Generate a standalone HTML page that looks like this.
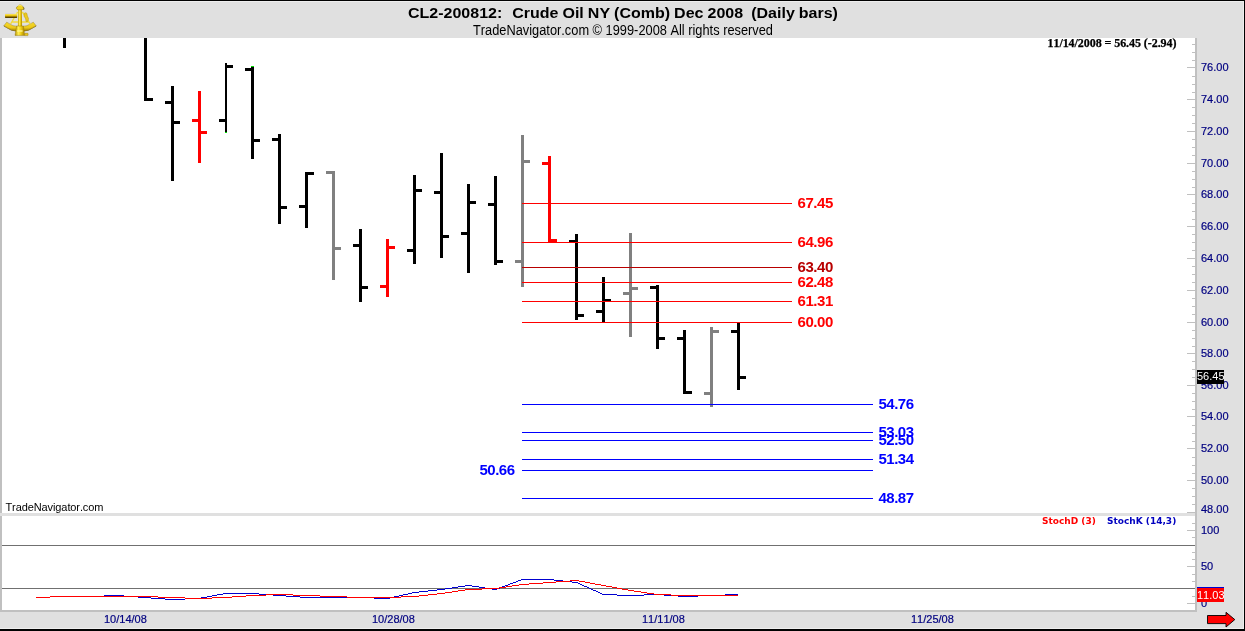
<!DOCTYPE html>
<html><head><meta charset="utf-8"><title>CL2-200812 Crude Oil</title>
<style>
html,body{margin:0;padding:0;}
body{width:1245px;height:631px;position:relative;overflow:hidden;background:#fff;font-family:"Liberation Sans",Arial,sans-serif;font-kerning:none;}
i{position:absolute;display:block;}
.t{position:absolute;white-space:nowrap;line-height:1;}
.ax{font-size:11px;color:#000080;left:1201px;-webkit-text-stroke:0.2px #000080;}
.fr{font-size:15px;letter-spacing:-0.45px;font-weight:bold;color:#f00;left:797.5px;}
.fb{font-size:15px;letter-spacing:-0.5px;font-weight:bold;color:#00f;left:878.5px;}
.dt{font-size:11px;color:#000080;top:614px;-webkit-text-stroke:0.2px #000080;}
svg{position:absolute;left:0;top:0;}
</style></head><body>

<i style="left:0px;top:0px;width:1245px;height:1px;background:#000"></i>
<i style="left:0px;top:1px;width:1245px;height:37px;background:#e0e0e0"></i>
<i style="left:0px;top:38px;width:2px;height:574px;background:#c0c0c0"></i>
<i style="left:1197px;top:38px;width:47px;height:574px;background:#e0e0e0"></i>
<i style="left:1195px;top:38px;width:2px;height:574px;background:#c0c0c0"></i>
<i style="left:1244px;top:0px;width:1px;height:631px;background:#000"></i>
<i style="left:0px;top:513px;width:1195px;height:3px;background:#e0e0e0"></i>
<i style="left:0px;top:610px;width:1197px;height:2px;background:#c0c0c0"></i>
<i style="left:0px;top:612px;width:1244px;height:17px;background:#e0e0e0"></i>
<i style="left:0px;top:629px;width:1245px;height:2px;background:#000"></i>
<i style="left:0px;top:628px;width:1244px;height:1px;background:#eeeeee"></i>
<i style="left:0px;top:1px;width:1244px;height:1px;background:#eeeeee"></i>
<i style="left:1243px;top:1px;width:1px;height:628px;background:#eeeeee"></i>
<i style="left:1192px;top:44px;width:3px;height:1px;background:#c0c0c0"></i>
<i style="left:1192px;top:52px;width:3px;height:1px;background:#c0c0c0"></i>
<i style="left:1192px;top:60px;width:3px;height:1px;background:#c0c0c0"></i>
<i style="left:1187px;top:67px;width:8px;height:1px;background:#c0c0c0"></i>
<i style="left:1192px;top:76px;width:3px;height:1px;background:#c0c0c0"></i>
<i style="left:1192px;top:84px;width:3px;height:1px;background:#c0c0c0"></i>
<i style="left:1192px;top:92px;width:3px;height:1px;background:#c0c0c0"></i>
<i style="left:1187px;top:99px;width:8px;height:1px;background:#c0c0c0"></i>
<i style="left:1192px;top:107px;width:3px;height:1px;background:#c0c0c0"></i>
<i style="left:1192px;top:115px;width:3px;height:1px;background:#c0c0c0"></i>
<i style="left:1192px;top:123px;width:3px;height:1px;background:#c0c0c0"></i>
<i style="left:1187px;top:131px;width:8px;height:1px;background:#c0c0c0"></i>
<i style="left:1192px;top:139px;width:3px;height:1px;background:#c0c0c0"></i>
<i style="left:1192px;top:147px;width:3px;height:1px;background:#c0c0c0"></i>
<i style="left:1192px;top:155px;width:3px;height:1px;background:#c0c0c0"></i>
<i style="left:1187px;top:163px;width:8px;height:1px;background:#c0c0c0"></i>
<i style="left:1192px;top:171px;width:3px;height:1px;background:#c0c0c0"></i>
<i style="left:1192px;top:179px;width:3px;height:1px;background:#c0c0c0"></i>
<i style="left:1192px;top:187px;width:3px;height:1px;background:#c0c0c0"></i>
<i style="left:1187px;top:194px;width:8px;height:1px;background:#c0c0c0"></i>
<i style="left:1192px;top:203px;width:3px;height:1px;background:#c0c0c0"></i>
<i style="left:1192px;top:211px;width:3px;height:1px;background:#c0c0c0"></i>
<i style="left:1192px;top:219px;width:3px;height:1px;background:#c0c0c0"></i>
<i style="left:1187px;top:226px;width:8px;height:1px;background:#c0c0c0"></i>
<i style="left:1192px;top:234px;width:3px;height:1px;background:#c0c0c0"></i>
<i style="left:1192px;top:242px;width:3px;height:1px;background:#c0c0c0"></i>
<i style="left:1192px;top:250px;width:3px;height:1px;background:#c0c0c0"></i>
<i style="left:1187px;top:258px;width:8px;height:1px;background:#c0c0c0"></i>
<i style="left:1192px;top:266px;width:3px;height:1px;background:#c0c0c0"></i>
<i style="left:1192px;top:274px;width:3px;height:1px;background:#c0c0c0"></i>
<i style="left:1192px;top:282px;width:3px;height:1px;background:#c0c0c0"></i>
<i style="left:1187px;top:290px;width:8px;height:1px;background:#c0c0c0"></i>
<i style="left:1192px;top:298px;width:3px;height:1px;background:#c0c0c0"></i>
<i style="left:1192px;top:306px;width:3px;height:1px;background:#c0c0c0"></i>
<i style="left:1192px;top:314px;width:3px;height:1px;background:#c0c0c0"></i>
<i style="left:1187px;top:322px;width:8px;height:1px;background:#c0c0c0"></i>
<i style="left:1192px;top:330px;width:3px;height:1px;background:#c0c0c0"></i>
<i style="left:1192px;top:338px;width:3px;height:1px;background:#c0c0c0"></i>
<i style="left:1192px;top:346px;width:3px;height:1px;background:#c0c0c0"></i>
<i style="left:1187px;top:353px;width:8px;height:1px;background:#c0c0c0"></i>
<i style="left:1192px;top:361px;width:3px;height:1px;background:#c0c0c0"></i>
<i style="left:1192px;top:369px;width:3px;height:1px;background:#c0c0c0"></i>
<i style="left:1192px;top:377px;width:3px;height:1px;background:#c0c0c0"></i>
<i style="left:1187px;top:385px;width:8px;height:1px;background:#c0c0c0"></i>
<i style="left:1192px;top:393px;width:3px;height:1px;background:#c0c0c0"></i>
<i style="left:1192px;top:401px;width:3px;height:1px;background:#c0c0c0"></i>
<i style="left:1192px;top:409px;width:3px;height:1px;background:#c0c0c0"></i>
<i style="left:1187px;top:416px;width:8px;height:1px;background:#c0c0c0"></i>
<i style="left:1192px;top:425px;width:3px;height:1px;background:#c0c0c0"></i>
<i style="left:1192px;top:433px;width:3px;height:1px;background:#c0c0c0"></i>
<i style="left:1192px;top:441px;width:3px;height:1px;background:#c0c0c0"></i>
<i style="left:1187px;top:448px;width:8px;height:1px;background:#c0c0c0"></i>
<i style="left:1192px;top:457px;width:3px;height:1px;background:#c0c0c0"></i>
<i style="left:1192px;top:465px;width:3px;height:1px;background:#c0c0c0"></i>
<i style="left:1192px;top:473px;width:3px;height:1px;background:#c0c0c0"></i>
<i style="left:1187px;top:480px;width:8px;height:1px;background:#c0c0c0"></i>
<i style="left:1192px;top:488px;width:3px;height:1px;background:#c0c0c0"></i>
<i style="left:1192px;top:496px;width:3px;height:1px;background:#c0c0c0"></i>
<i style="left:1192px;top:504px;width:3px;height:1px;background:#c0c0c0"></i>
<i style="left:1187px;top:512px;width:8px;height:1px;background:#c0c0c0"></i>
<i style="left:1192px;top:523px;width:3px;height:1px;background:#c0c0c0"></i>
<i style="left:1187px;top:530px;width:8px;height:1px;background:#c0c0c0"></i>
<i style="left:1192px;top:537px;width:3px;height:1px;background:#c0c0c0"></i>
<i style="left:1192px;top:545px;width:3px;height:1px;background:#c0c0c0"></i>
<i style="left:1192px;top:552px;width:3px;height:1px;background:#c0c0c0"></i>
<i style="left:1192px;top:559px;width:3px;height:1px;background:#c0c0c0"></i>
<i style="left:1187px;top:566px;width:8px;height:1px;background:#c0c0c0"></i>
<i style="left:1192px;top:574px;width:3px;height:1px;background:#c0c0c0"></i>
<i style="left:1192px;top:581px;width:3px;height:1px;background:#c0c0c0"></i>
<i style="left:1192px;top:588px;width:3px;height:1px;background:#c0c0c0"></i>
<i style="left:1192px;top:596px;width:3px;height:1px;background:#c0c0c0"></i>
<i style="left:1187px;top:603px;width:8px;height:1px;background:#c0c0c0"></i>
<i style="left:2px;top:545px;width:1193px;height:1px;background:#707070"></i>
<i style="left:2px;top:588px;width:1193px;height:1px;background:#707070"></i>
<span class="t ax" style="top:62px">76.00</span>
<span class="t ax" style="top:94px">74.00</span>
<span class="t ax" style="top:126px">72.00</span>
<span class="t ax" style="top:158px">70.00</span>
<span class="t ax" style="top:189px">68.00</span>
<span class="t ax" style="top:221px">66.00</span>
<span class="t ax" style="top:253px">64.00</span>
<span class="t ax" style="top:285px">62.00</span>
<span class="t ax" style="top:317px">60.00</span>
<span class="t ax" style="top:348px">58.00</span>
<span class="t ax" style="top:380px">56.00</span>
<span class="t ax" style="top:411px">54.00</span>
<span class="t ax" style="top:443px">52.00</span>
<span class="t ax" style="top:475px">50.00</span>
<span class="t ax" style="top:504px">48.00</span>
<span class="t ax" style="top:525px">100</span>
<span class="t ax" style="top:561px">50</span>
<span class="t ax" style="top:598px">0</span>
<i style="left:63px;top:38px;width:3px;height:10px;background:#000"></i>
<i style="left:144px;top:38px;width:3px;height:63px;background:#000"></i>
<i style="left:147px;top:98px;width:6px;height:3px;background:#000"></i>
<i style="left:171px;top:86px;width:3px;height:95px;background:#000"></i>
<i style="left:165px;top:101px;width:6px;height:3px;background:#000"></i>
<i style="left:174px;top:121px;width:6px;height:3px;background:#000"></i>
<i style="left:198px;top:91px;width:3px;height:72px;background:#f00"></i>
<i style="left:192px;top:119px;width:6px;height:3px;background:#f00"></i>
<i style="left:201px;top:131px;width:6px;height:3px;background:#f00"></i>
<i style="left:225px;top:63px;width:2px;height:69px;background:#000"></i>
<i style="left:219px;top:119px;width:6px;height:3px;background:#000"></i>
<i style="left:227px;top:65px;width:6px;height:3px;background:#000"></i>
<i style="left:251px;top:67px;width:3px;height:92px;background:#000"></i>
<i style="left:245px;top:68px;width:6px;height:3px;background:#000"></i>
<i style="left:254px;top:139px;width:6px;height:3px;background:#000"></i>
<i style="left:278px;top:134px;width:3px;height:90px;background:#000"></i>
<i style="left:272px;top:138px;width:6px;height:3px;background:#000"></i>
<i style="left:281px;top:206px;width:6px;height:3px;background:#000"></i>
<i style="left:305px;top:172px;width:3px;height:56px;background:#000"></i>
<i style="left:299px;top:205px;width:6px;height:3px;background:#000"></i>
<i style="left:308px;top:172px;width:6px;height:3px;background:#000"></i>
<i style="left:332px;top:171px;width:3px;height:109px;background:#808080"></i>
<i style="left:326px;top:171px;width:6px;height:3px;background:#808080"></i>
<i style="left:335px;top:247px;width:6px;height:3px;background:#808080"></i>
<i style="left:359px;top:229px;width:3px;height:73px;background:#000"></i>
<i style="left:353px;top:244px;width:6px;height:3px;background:#000"></i>
<i style="left:362px;top:286px;width:6px;height:3px;background:#000"></i>
<i style="left:386px;top:239px;width:3px;height:58px;background:#f00"></i>
<i style="left:380px;top:285px;width:6px;height:3px;background:#f00"></i>
<i style="left:389px;top:246px;width:6px;height:3px;background:#f00"></i>
<i style="left:413px;top:175px;width:3px;height:89px;background:#000"></i>
<i style="left:407px;top:249px;width:6px;height:3px;background:#000"></i>
<i style="left:416px;top:189px;width:6px;height:3px;background:#000"></i>
<i style="left:440px;top:153px;width:3px;height:105px;background:#000"></i>
<i style="left:434px;top:191px;width:6px;height:3px;background:#000"></i>
<i style="left:443px;top:235px;width:6px;height:3px;background:#000"></i>
<i style="left:467px;top:184px;width:3px;height:89px;background:#000"></i>
<i style="left:461px;top:232px;width:6px;height:3px;background:#000"></i>
<i style="left:470px;top:201px;width:6px;height:3px;background:#000"></i>
<i style="left:494px;top:176px;width:3px;height:89px;background:#000"></i>
<i style="left:488px;top:203px;width:6px;height:3px;background:#000"></i>
<i style="left:497px;top:260px;width:6px;height:3px;background:#000"></i>
<i style="left:521px;top:135px;width:3px;height:152px;background:#808080"></i>
<i style="left:515px;top:260px;width:6px;height:3px;background:#808080"></i>
<i style="left:524px;top:160px;width:6px;height:3px;background:#808080"></i>
<i style="left:548px;top:156px;width:3px;height:86px;background:#f00"></i>
<i style="left:542px;top:162px;width:6px;height:3px;background:#f00"></i>
<i style="left:551px;top:239px;width:6px;height:3px;background:#f00"></i>
<i style="left:575px;top:234px;width:3px;height:86px;background:#000"></i>
<i style="left:569px;top:240px;width:6px;height:3px;background:#000"></i>
<i style="left:578px;top:314px;width:6px;height:3px;background:#000"></i>
<i style="left:602px;top:277px;width:3px;height:45px;background:#000"></i>
<i style="left:596px;top:310px;width:6px;height:3px;background:#000"></i>
<i style="left:605px;top:299px;width:6px;height:3px;background:#000"></i>
<i style="left:629px;top:233px;width:3px;height:104px;background:#808080"></i>
<i style="left:623px;top:292px;width:6px;height:3px;background:#808080"></i>
<i style="left:632px;top:287px;width:6px;height:3px;background:#808080"></i>
<i style="left:656px;top:285px;width:3px;height:64px;background:#000"></i>
<i style="left:650px;top:286px;width:6px;height:3px;background:#000"></i>
<i style="left:659px;top:337px;width:6px;height:3px;background:#000"></i>
<i style="left:683px;top:330px;width:3px;height:64px;background:#000"></i>
<i style="left:677px;top:337px;width:6px;height:3px;background:#000"></i>
<i style="left:686px;top:391px;width:6px;height:3px;background:#000"></i>
<i style="left:710px;top:327px;width:3px;height:80px;background:#808080"></i>
<i style="left:704px;top:392px;width:6px;height:3px;background:#808080"></i>
<i style="left:713px;top:330px;width:6px;height:3px;background:#808080"></i>
<i style="left:737px;top:322px;width:3px;height:68px;background:#000"></i>
<i style="left:731px;top:330px;width:6px;height:3px;background:#000"></i>
<i style="left:740px;top:376px;width:6px;height:3px;background:#000"></i>
<i style="left:225px;top:132px;width:2px;height:1px;background:#00e000"></i>
<i style="left:251px;top:66px;width:3px;height:1px;background:#00e000"></i>
<i style="left:522px;top:203px;width:270px;height:1px;background:#f00"></i>
<i style="left:522px;top:242px;width:270px;height:1px;background:#f00"></i>
<i style="left:522px;top:267px;width:270px;height:1px;background:#b80000"></i>
<i style="left:522px;top:282px;width:270px;height:1px;background:#f00"></i>
<i style="left:522px;top:301px;width:270px;height:1px;background:#f00"></i>
<i style="left:522px;top:322px;width:270px;height:1px;background:#f00"></i>
<i style="left:522px;top:404px;width:351px;height:1px;background:#00f"></i>
<i style="left:522px;top:432px;width:351px;height:1px;background:#00f"></i>
<i style="left:522px;top:440px;width:351px;height:1px;background:#00f"></i>
<i style="left:522px;top:459px;width:351px;height:1px;background:#00f"></i>
<i style="left:522px;top:470px;width:351px;height:1px;background:#00f"></i>
<i style="left:522px;top:498px;width:351px;height:1px;background:#00f"></i>
<span class="t fr" style="top:195px;color:#f00">67.45</span>
<span class="t fr" style="top:234px;color:#f00">64.96</span>
<span class="t fr" style="top:259px;color:#b80000">63.40</span>
<span class="t fr" style="top:274px;color:#f00">62.48</span>
<span class="t fr" style="top:293px;color:#f00">61.31</span>
<span class="t fr" style="top:314px;color:#f00">60.00</span>
<span class="t fb" style="top:396px">54.76</span>
<span class="t fb" style="top:424px">53.03</span>
<span class="t fb" style="top:432px">52.50</span>
<span class="t fb" style="top:451px">51.34</span>
<span class="t fb" style="top:462px;left:479.5px">50.66</span>
<span class="t fb" style="top:490px">48.87</span>
<i style="left:1197px;top:370px;width:27px;height:14px;background:#000"></i>
<span class="t" style="left:1197px;top:371px;font-size:11px;color:#fff;width:27px;text-align:center">56.45</span>
<i style="left:1197px;top:587px;width:27px;height:13px;background:#0000d0"></i>
<i style="left:1197px;top:588px;width:27px;height:14px;background:#f00"></i>
<span class="t" style="left:1197px;top:590px;font-size:11px;color:#fff;width:27px;text-align:center">11.03</span>
<span class="t" style="left:408px;top:5px;font-size:16px;word-spacing:-0.4px;font-weight:bold;color:#000;white-space:pre;transform:scaleY(0.94);transform-origin:0 13.5px"><b style="margin-right:1.8px">CL2-200812:</b>  Crude Oil NY (Comb) Dec 2008  (Daily bars)</span>
<span class="t" style="left:473px;top:24px;font-size:13px;color:#000;transform:scale(0.9855,1.06);transform-origin:0 11px">TradeNavigator.com © 1999-2008 All rights reserved</span>
<span class="t" style="left:1047.5px;top:37.2px;font-family:'Liberation Serif',serif;font-size:12px;letter-spacing:-0.06px;-webkit-text-stroke:0.25px #000;font-weight:bold;color:#000">11/14/2008 = 56.45 (-2.94)</span>
<span class="t" style="left:5.5px;top:502px;font-size:11px;letter-spacing:-0.1px;color:#000">TradeNavigator.com</span>
<span class="t" style="left:1042px;top:516.7px;font-family:'DejaVu Sans',sans-serif;font-size:9px;font-weight:bold;color:#f00">StochD (3)</span>
<span class="t" style="left:1107px;top:516.7px;font-family:'DejaVu Sans',sans-serif;font-size:9px;font-weight:bold;color:#0000c0">StochK (14,3)</span>
<span class="t dt" style="left:104px">10/14/08</span>
<span class="t dt" style="left:372px">10/28/08</span>
<span class="t dt" style="left:642px">11/11/08</span>
<span class="t dt" style="left:911px">11/25/08</span>
<svg width="1245" height="631" viewBox="0 0 1245 631" shape-rendering="crispEdges">
<rect x="36" y="597" width="14" height="1" fill="#0000d0"/><rect x="50" y="596" width="54" height="1" fill="#0000d0"/><rect x="104" y="595" width="20" height="1" fill="#0000d0"/><rect x="124" y="596" width="14" height="1" fill="#0000d0"/><rect x="138" y="597" width="13" height="1" fill="#0000d0"/><rect x="151" y="598" width="14" height="1" fill="#0000d0"/><rect x="165" y="599" width="20" height="1" fill="#0000d0"/><rect x="185" y="598" width="16" height="1" fill="#0000d0"/><rect x="201" y="597" width="6" height="1" fill="#0000d0"/><rect x="207" y="596" width="5" height="1" fill="#0000d0"/><rect x="212" y="595" width="5" height="1" fill="#0000d0"/><rect x="217" y="594" width="6" height="1" fill="#0000d0"/><rect x="223" y="593" width="36" height="1" fill="#0000d0"/><rect x="259" y="594" width="14" height="1" fill="#0000d0"/><rect x="273" y="595" width="13" height="1" fill="#0000d0"/><rect x="286" y="596" width="14" height="1" fill="#0000d0"/><rect x="300" y="597" width="74" height="1" fill="#0000d0"/><rect x="374" y="598" width="16" height="1" fill="#0000d0"/><rect x="390" y="597" width="4" height="1" fill="#0000d0"/><rect x="394" y="596" width="5" height="1" fill="#0000d0"/><rect x="399" y="595" width="4" height="1" fill="#0000d0"/><rect x="403" y="594" width="5" height="1" fill="#0000d0"/><rect x="408" y="593" width="4" height="1" fill="#0000d0"/><rect x="412" y="592" width="7" height="1" fill="#0000d0"/><rect x="419" y="591" width="9" height="1" fill="#0000d0"/><rect x="428" y="590" width="9" height="1" fill="#0000d0"/><rect x="437" y="589" width="8" height="1" fill="#0000d0"/><rect x="445" y="588" width="7" height="1" fill="#0000d0"/><rect x="452" y="587" width="6" height="1" fill="#0000d0"/><rect x="458" y="586" width="7" height="1" fill="#0000d0"/><rect x="465" y="585" width="7" height="1" fill="#0000d0"/><rect x="472" y="586" width="7" height="1" fill="#0000d0"/><rect x="479" y="587" width="6" height="1" fill="#0000d0"/><rect x="485" y="588" width="7" height="1" fill="#0000d0"/><rect x="492" y="589" width="5" height="1" fill="#0000d0"/><rect x="497" y="588" width="3" height="1" fill="#0000d0"/><rect x="500" y="587" width="2" height="1" fill="#0000d0"/><rect x="502" y="586" width="3" height="1" fill="#0000d0"/><rect x="505" y="585" width="3" height="1" fill="#0000d0"/><rect x="508" y="584" width="2" height="1" fill="#0000d0"/><rect x="510" y="583" width="3" height="1" fill="#0000d0"/><rect x="513" y="582" width="3" height="1" fill="#0000d0"/><rect x="516" y="581" width="2" height="1" fill="#0000d0"/><rect x="518" y="580" width="3" height="1" fill="#0000d0"/><rect x="521" y="579" width="33" height="1" fill="#0000d0"/><rect x="554" y="580" width="9" height="1" fill="#0000d0"/><rect x="563" y="581" width="9" height="1" fill="#0000d0"/><rect x="572" y="582" width="6" height="1" fill="#0000d0"/><rect x="578" y="583" width="2" height="1" fill="#0000d0"/><rect x="580" y="584" width="2" height="1" fill="#0000d0"/><rect x="582" y="585" width="2" height="1" fill="#0000d0"/><rect x="584" y="586" width="3" height="1" fill="#0000d0"/><rect x="587" y="587" width="2" height="1" fill="#0000d0"/><rect x="589" y="588" width="2" height="1" fill="#0000d0"/><rect x="591" y="589" width="2" height="1" fill="#0000d0"/><rect x="593" y="590" width="3" height="1" fill="#0000d0"/><rect x="596" y="591" width="2" height="1" fill="#0000d0"/><rect x="598" y="592" width="2" height="1" fill="#0000d0"/><rect x="600" y="593" width="2" height="1" fill="#0000d0"/><rect x="602" y="594" width="15" height="1" fill="#0000d0"/><rect x="617" y="595" width="27" height="1" fill="#0000d0"/><rect x="644" y="594" width="20" height="1" fill="#0000d0"/><rect x="664" y="595" width="14" height="1" fill="#0000d0"/><rect x="678" y="596" width="20" height="1" fill="#0000d0"/><rect x="698" y="595" width="27" height="1" fill="#0000d0"/><rect x="725" y="594" width="13" height="1" fill="#0000d0"/>
<rect x="36" y="597" width="14" height="1" fill="#f00"/><rect x="50" y="596" width="108" height="1" fill="#f00"/><rect x="158" y="597" width="27" height="1" fill="#f00"/><rect x="185" y="598" width="27" height="1" fill="#f00"/><rect x="212" y="597" width="20" height="1" fill="#f00"/><rect x="232" y="596" width="14" height="1" fill="#f00"/><rect x="246" y="595" width="20" height="1" fill="#f00"/><rect x="266" y="594" width="27" height="1" fill="#f00"/><rect x="293" y="595" width="27" height="1" fill="#f00"/><rect x="320" y="596" width="27" height="1" fill="#f00"/><rect x="347" y="597" width="54" height="1" fill="#f00"/><rect x="401" y="596" width="18" height="1" fill="#f00"/><rect x="419" y="595" width="9" height="1" fill="#f00"/><rect x="428" y="594" width="9" height="1" fill="#f00"/><rect x="437" y="593" width="8" height="1" fill="#f00"/><rect x="445" y="592" width="7" height="1" fill="#f00"/><rect x="452" y="591" width="6" height="1" fill="#f00"/><rect x="458" y="590" width="7" height="1" fill="#f00"/><rect x="465" y="589" width="17" height="1" fill="#f00"/><rect x="482" y="588" width="17" height="1" fill="#f00"/><rect x="499" y="587" width="7" height="1" fill="#f00"/><rect x="506" y="586" width="6" height="1" fill="#f00"/><rect x="512" y="585" width="7" height="1" fill="#f00"/><rect x="519" y="584" width="10" height="1" fill="#f00"/><rect x="529" y="583" width="14" height="1" fill="#f00"/><rect x="543" y="582" width="13" height="1" fill="#f00"/><rect x="556" y="581" width="14" height="1" fill="#f00"/><rect x="570" y="580" width="9" height="1" fill="#f00"/><rect x="579" y="581" width="6" height="1" fill="#f00"/><rect x="585" y="582" width="5" height="1" fill="#f00"/><rect x="590" y="583" width="5" height="1" fill="#f00"/><rect x="595" y="584" width="6" height="1" fill="#f00"/><rect x="601" y="585" width="5" height="1" fill="#f00"/><rect x="606" y="586" width="6" height="1" fill="#f00"/><rect x="612" y="587" width="5" height="1" fill="#f00"/><rect x="617" y="588" width="5" height="1" fill="#f00"/><rect x="622" y="589" width="6" height="1" fill="#f00"/><rect x="628" y="590" width="6" height="1" fill="#f00"/><rect x="634" y="591" width="7" height="1" fill="#f00"/><rect x="641" y="592" width="6" height="1" fill="#f00"/><rect x="647" y="593" width="7" height="1" fill="#f00"/><rect x="654" y="594" width="17" height="1" fill="#f00"/><rect x="671" y="595" width="67" height="1" fill="#f00"/>
</svg><svg width="1245" height="631" viewBox="0 0 1245 631">
<polygon points="1207.5,615.5 1226,615.5 1226,612.3 1234.8,619.6 1226,627 1226,623.6 1207.5,623.6" fill="#f00" stroke="#000" stroke-width="0.9" stroke-linejoin="miter"/>
</svg>
<svg width="44" height="40" viewBox="0 0 44 40" style="left:0;top:0">
<defs>
<linearGradient id="ga" x1="0" y1="0" x2="1" y2="0"><stop offset="0" stop-color="#b89400"/><stop offset="0.35" stop-color="#ffee50"/><stop offset="0.6" stop-color="#f0d018"/><stop offset="1" stop-color="#a88200"/></linearGradient>
<linearGradient id="gt" x1="0" y1="0" x2="0" y2="1"><stop offset="0" stop-color="#fff27a"/><stop offset="0.45" stop-color="#e8c414"/><stop offset="0.8" stop-color="#7a5c00"/><stop offset="1" stop-color="#3a2c00"/></linearGradient>
<linearGradient id="gr" x1="0" y1="0" x2="0" y2="1"><stop offset="0" stop-color="#f6dc2c"/><stop offset="0.6" stop-color="#ecc81a"/><stop offset="1" stop-color="#9c7c00"/></linearGradient>
</defs>
<path d="M3.75,25.93 A26.1,26.1 0 0 0 36.25,25.93" fill="none" stroke="#4a3800" stroke-width="0.9" opacity="0.75"/>
<path d="M3.94,25.69 A25.8,25.8 0 0 0 36.06,25.69 L33.26,22.17 A21.3,21.3 0 0 1 6.74,22.17 Z" fill="url(#gr)" stroke="#8a6c00" stroke-width="0.4"/>
<path d="M17.6,12 L10.6,24 M22.4,12 L30.2,24 M12.2,22 L28.4,22" stroke="#f2da3a" stroke-width="1.4" fill="none"/>
<path d="M24.3,13.2 q1.6,-1.2 2.6,0.2 l0.5,2.6 1.2,2.6 -0.8,2.8 -1.8,0.2 -0.4,-2.8 -1.5,-2.6z" fill="#ecca20" stroke="#a88800" stroke-width="0.4"/>
<rect x="5" y="13.6" width="12.2" height="4.3" rx="0.6" fill="url(#gt)"/>
<rect x="5.2" y="13" width="9.5" height="0.7" fill="#c8c4ff" opacity="0.8"/>
<path d="M18.2,9 L21.8,9 L22.1,27 L17.9,27 Z" fill="url(#ga)"/>
<path d="M16.4,8.4 q-0.4,-1.5 1.4,-1.9 q0.4,-1.4 2.2,-1.6 q2,0 2.6,1.5 q1.6,0.5 1.2,2.1 q-0.6,1.3 -2.2,1.3 l-3.4,0 q-1.4,-0.2 -1.8,-1.4z" fill="#f0d21e" stroke="#8a6c00" stroke-width="0.5"/>
<path d="M23.2,7.4 q1.2,1 0.4,2.6" stroke="#4a3800" stroke-width="0.8" fill="none" opacity="0.8"/>
<path d="M18,5.8 q2.2,-1.2 4,0.2" stroke="#fff27a" stroke-width="0.8" fill="none"/>
<path d="M16.6,26 L23.4,26 L24.7,35.4 L15,35.4 Z" fill="url(#ga)" stroke="#8a6c00" stroke-width="0.4"/>
<rect x="17" y="30.2" width="5.6" height="1.6" fill="#fff48a" opacity="0.85"/>
<rect x="24.6" y="33.3" width="3.5" height="2.3" rx="0.5" fill="#e8c414" stroke="#8a6c00" stroke-width="0.4"/>
</svg>
</body></html>
